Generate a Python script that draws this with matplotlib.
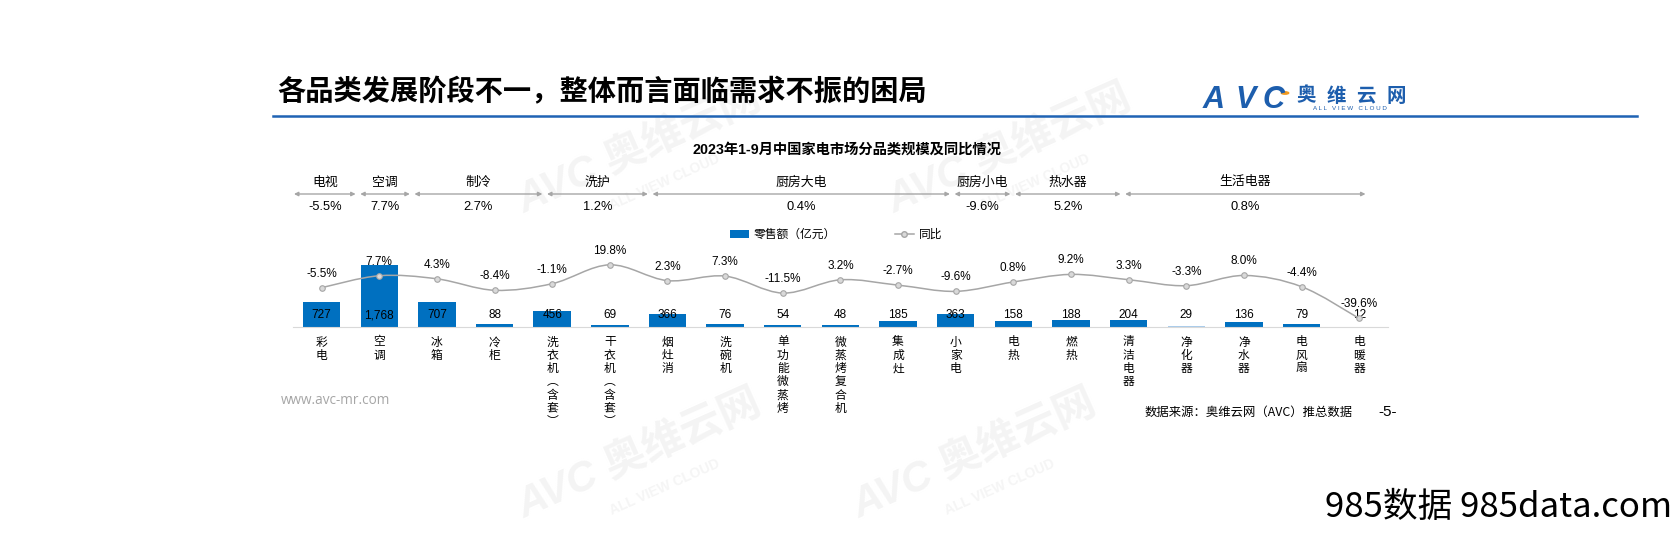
#2023年1-9月中国家电市场分品类规模及同比情况 chart

import numpy as np
import matplotlib
matplotlib.use('Agg')
import matplotlib.pyplot as plt
import matplotlib.transforms as mtransforms
from matplotlib.path import Path
from matplotlib.patches import PathPatch, Circle
from matplotlib.lines import Line2D

plt.rcParams['font.family'] = ['Liberation Sans', 'Noto Sans CJK SC', 'DejaVu Sans']

categories = ['彩电', '空调', '冰箱', '冷柜', '洗衣机（含套）', '干衣机（含套）', '烟灶消', '洗碗机',
              '单功能微蒸烤', '微蒸烤复合机', '集成灶', '小家电', '电热', '燃热', '清洁电器',
              '净化器', '净水器', '电风扇', '电暖器']
sales = [727, 1768, 707, 88, 456, 69, 366, 76, 54, 48, 185, 363, 158, 188, 204, 29, 136, 79, 12]
yoy = [-5.5, 7.7, 4.3, -8.4, -1.1, 19.8, 2.3, 7.3, -11.5, 3.2, -2.7, -9.6, 0.8, 9.2, 3.3, -3.3, 8.0, -4.4, -39.6]

groups = ['电视', '空调', '制冷', '洗护', '厨房大电', '厨房小电', '热水器', '生活电器']
group_yoy = [-5.5, 7.7, 2.7, 1.2, 0.4, -9.6, 5.2, 0.8]

# layout only: where the group arrows start / end, in category units
group_edges = [-0.52, 0.63, 1.57, 3.87, 5.7, 10.94, 11.99, 13.9, 18.15]
light_bars = ['净化器', '电暖器']

W, H = 1681, 540
def fx(px):
    return px / W
def fy(py):
    return 1 - py / H

BLUE = '#0070C0'
LIGHT = '#A9CCEB'
GRAY = '#A6A6A6'

fig = plt.figure(figsize=(W / 100, H / 100), dpi=100)

# faint watermarks (behind everything)
for (x, y) in [(640, 150), (1010, 150), (640, 455), (975, 455)]:
    fig.text(fx(x), fy(y), 'AVC 奥维云网', fontsize=30, fontweight='bold', style='italic',
             color='#F4F4F4', rotation=24, ha='center', va='center', zorder=-5)
    fig.text(fx(x + 25), fy(y + 32), 'ALL VIEW CLOUD', fontsize=10, fontweight='bold',
             color='#F5F5F5', rotation=24, ha='center', va='center', zorder=-5)

# page decorations
fig.text(fx(277), fy(92), '各品类发展阶段不一，整体而言面临需求不振的困局', fontsize=20.3,
         fontweight='bold', ha='left', va='center', family=['Noto Sans CJK SC'])
fig.add_artist(Line2D([fx(273), fx(1637)], [fy(116), fy(116)], color='#1F63B4', lw=1.8))

# logo
for ch, x in zip('AVC', [1214, 1246, 1274]):
    fig.text(fx(x), fy(100), ch, fontsize=22, fontweight='bold', style='italic',
             color='#1D5EAD', ha='center', va='center')
fig.add_artist(Circle((fx(1285), fy(93)), 0.0022, transform=fig.transFigure, color='#F39A1E'))
for ch, x in zip('奥维云网', [1306, 1336, 1366, 1396]):
    fig.text(fx(x), fy(96), ch, fontsize=14, fontweight='bold', color='#1D5EAD',
             ha='center', va='center', family=['Noto Sans CJK SC'])
fig.text(fx(1350), fy(109), 'A L L   V I E W   C L O U D', fontsize=4.5, color='#1D5EAD',
         ha='center', va='center')

fig.text(fx(847), fy(150), '2023年1-9月中国家电市场分品类规模及同比情况', fontsize=10.3,
         fontweight='bold', ha='center', va='center')

# main axes
ax = fig.add_axes([fx(292.8), fy(327), fx(1388) - fx(292.8), 70.1 / H])
ax.set_xlim(-0.5, 18.5)
ax.set_ylim(0, 2000)
ax.patch.set_visible(False)
ax2 = ax.twinx()
ax2.set_ylim(-49.06, 28.57)

x = np.arange(len(categories))
colors = [LIGHT if c in light_bars else BLUE for c in categories]
ax.bar(x, sales, width=0.65, color=colors, label='零售额（亿元）', zorder=2)

for a in (ax, ax2):
    for s in ['top', 'left', 'right']:
        a.spines[s].set_visible(False)
    a.set_yticks([])
    a.set_xticks([])
ax.spines['bottom'].set_color('#D9D9D9')
ax2.spines['bottom'].set_visible(False)

for i, v in enumerate(sales):
    ax.annotate(f'{v:,}', (i, 0), xytext=(0, 12 * 0.72), textcoords='offset points',
                ha='center', va='center', fontsize=8.5, zorder=5)

# smoothed yoy line (bezier through the points)
pts = np.column_stack([x, yoy]).astype(float)
verts = [pts[0]]
codes = [Path.MOVETO]
n = len(pts)
for i in range(n - 1):
    p0 = pts[i - 1] if i > 0 else pts[i]
    p3 = pts[i + 2] if i + 2 < n else pts[i + 1]
    verts += [pts[i] + (pts[i + 1] - p0) / 6, pts[i + 1] - (p3 - pts[i]) / 6, pts[i + 1]]
    codes += [Path.CURVE4] * 3
ax2.add_patch(PathPatch(Path(verts, codes), facecolor='none', edgecolor=GRAY, lw=1.1, zorder=3))
ax2.plot(x, yoy, linestyle='none', marker='o', markersize=4, markerfacecolor='#D9D9D9',
         markeredgecolor=GRAY, markeredgewidth=0.8, zorder=4)
for i, v in enumerate(yoy):
    ax2.annotate(f'{v:.1f}%', (i, v), xytext=(0, 14 * 0.72), textcoords='offset points',
                 ha='center', va='center', fontsize=8.5, zorder=6)

# vertical category labels
vert = {'（': '︵', '）': '︶'}
for i, name in enumerate(categories):
    for j, ch in enumerate(name):
        ax.annotate(vert.get(ch, ch), (i, 0), xytext=(0, -(15 + j * 13.3) * 0.72),
                    textcoords='offset points', ha='center', va='center', fontsize=8.5,
                    family=['Noto Sans CJK SC'], annotation_clip=False)

# legend
line_handle = Line2D([], [], color=GRAY, lw=1.1, marker='o', markersize=4,
                     markerfacecolor='#D9D9D9', markeredgecolor=GRAY)
bars_handle = ax.containers[0]
ax.legend([bars_handle, line_handle], ['零售额（亿元）', '同比'], loc='center',
          bbox_to_anchor=(fx(836), fy(235)), bbox_transform=fig.transFigure, ncol=2,
          frameon=False, fontsize=8.5, handlelength=1.6, handletextpad=0.4, columnspacing=5)

# group header arrows
trans = mtransforms.blended_transform_factory(ax.transData, fig.transFigure)
for k, g in enumerate(groups):
    b0, b1 = group_edges[k] + 0.04, group_edges[k + 1] - 0.04
    ax.annotate('', xy=(b1, fy(194)), xytext=(b0, fy(194)), xycoords=trans, textcoords=trans,
                arrowprops=dict(arrowstyle='<|-|>', color=GRAY, lw=1, mutation_scale=6,
                                shrinkA=0, shrinkB=0), annotation_clip=False)
    xc = (b0 + b1) / 2
    ax.text(xc, fy(182), g, transform=trans, ha='center', va='center', fontsize=9.3,
            family=['Noto Sans CJK SC'])
    ax.text(xc, fy(207), f'{group_yoy[k]:.1f}%', transform=trans, ha='center', va='center',
            fontsize=9.3)

# footer
fig.text(fx(281), fy(400), 'www.avc-mr.com', fontsize=9.8, color='#A6A6A6', ha='left', va='center',
         family=['Open Sans'])
fig.text(fx(1353), fy(412), '数据来源：奥维云网（AVC）推总数据', fontsize=8.9, ha='right', va='center',
         family=['Noto Sans CJK SC'])
fig.text(fx(1388), fy(412), '-5-', fontsize=11, ha='center', va='center')
fig.text(fx(1672), fy(508), '985数据 985data.com', fontsize=25, ha='right', va='center',
         family=['Noto Sans CJK SC'])

fig.savefig('out.png', dpi=100)
plt.close(fig)
